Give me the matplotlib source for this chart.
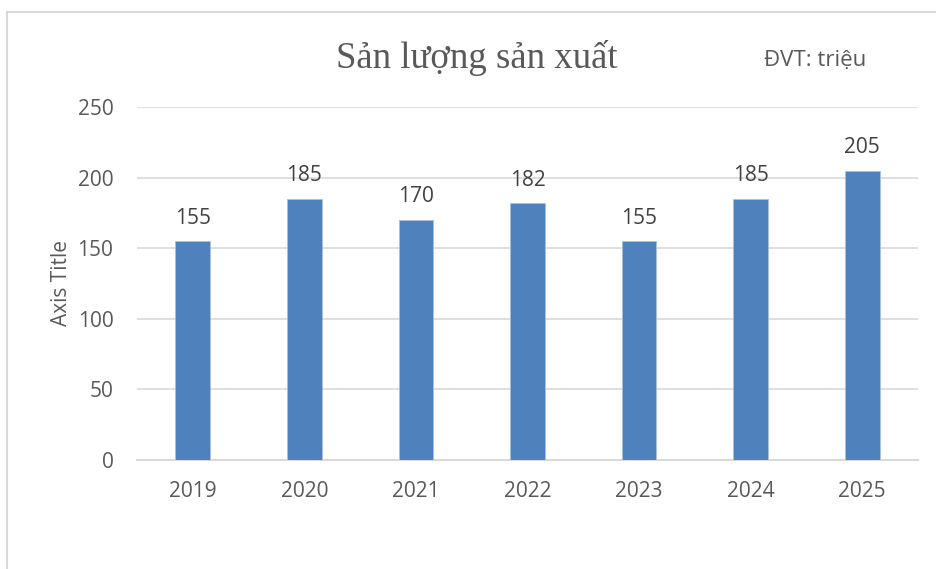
import matplotlib
matplotlib.use("Agg")
import matplotlib.pyplot as plt
from matplotlib.patches import Rectangle

years = ["2019", "2020", "2021", "2022", "2023", "2024", "2025"]
values = [155, 185, 170, 182, 155, 185, 205]
yticks = [0, 50, 100, 150, 200, 250]

title = "Sản lượng sản xuất"
unit_note = "ĐVT: triệu"
ylabel = "Axis Title"

W, H = 936, 569
fig = plt.figure(figsize=(W / 100, H / 100), dpi=100)
fig.patch.set_facecolor("white")

# outer chart border
fig.patches.append(Rectangle((7 / W, -0.1), 1.2, (H - 12) / H + 0.1,
                             transform=fig.transFigure, fill=False,
                             edgecolor="#d9d9d9", linewidth=1.5))

ax = fig.add_axes([137 / W, 1 - 460 / H, (918 - 137) / W, (460 - 107) / H])
x = list(range(len(years)))
bars = ax.bar(x, values, width=0.31, color="#4F81BD", edgecolor="#a9c0de",
              linewidth=0.6, zorder=3)
ax.set_xlim(-0.5, len(years) - 0.5)
ax.set_ylim(0, 250)
ax.set_yticks(yticks)
ax.set_xticks(x)
ax.set_xticklabels(years)
ax.grid(axis="y", color="#d9d9d9", linewidth=1.2, zorder=0)
for s in ["top", "right", "left"]:
    ax.spines[s].set_visible(False)
ax.spines["bottom"].set_color("#d9d9d9")
ax.spines["bottom"].set_linewidth(1.5)
ax.tick_params(length=0, colors="#595959", labelsize=15, pad=15)
ax.tick_params(axis="y", pad=17)
for lab in ax.get_xticklabels() + ax.get_yticklabels():
    lab.set_family("Open Sans")

for xi, v in zip(x, values):
    ax.annotate(str(v), (xi, v), xytext=(0, 9), textcoords="offset points",
                ha="center", va="bottom", fontsize=15, color="#404040",
                family="Open Sans")

ax.set_ylabel(ylabel, fontsize=15, color="#595959", family="Open Sans",
              labelpad=4)

fig.text(477 / W, 1 - 58 / H, title, ha="center", va="center",
         fontsize=26.5, color="#595959", family="Liberation Serif")
fig.text(815 / W, 1 - 60 / H, unit_note, ha="center", va="center",
         fontsize=16, color="#595959", family="Open Sans")

fig.savefig("out.png", dpi=100, facecolor="white")
